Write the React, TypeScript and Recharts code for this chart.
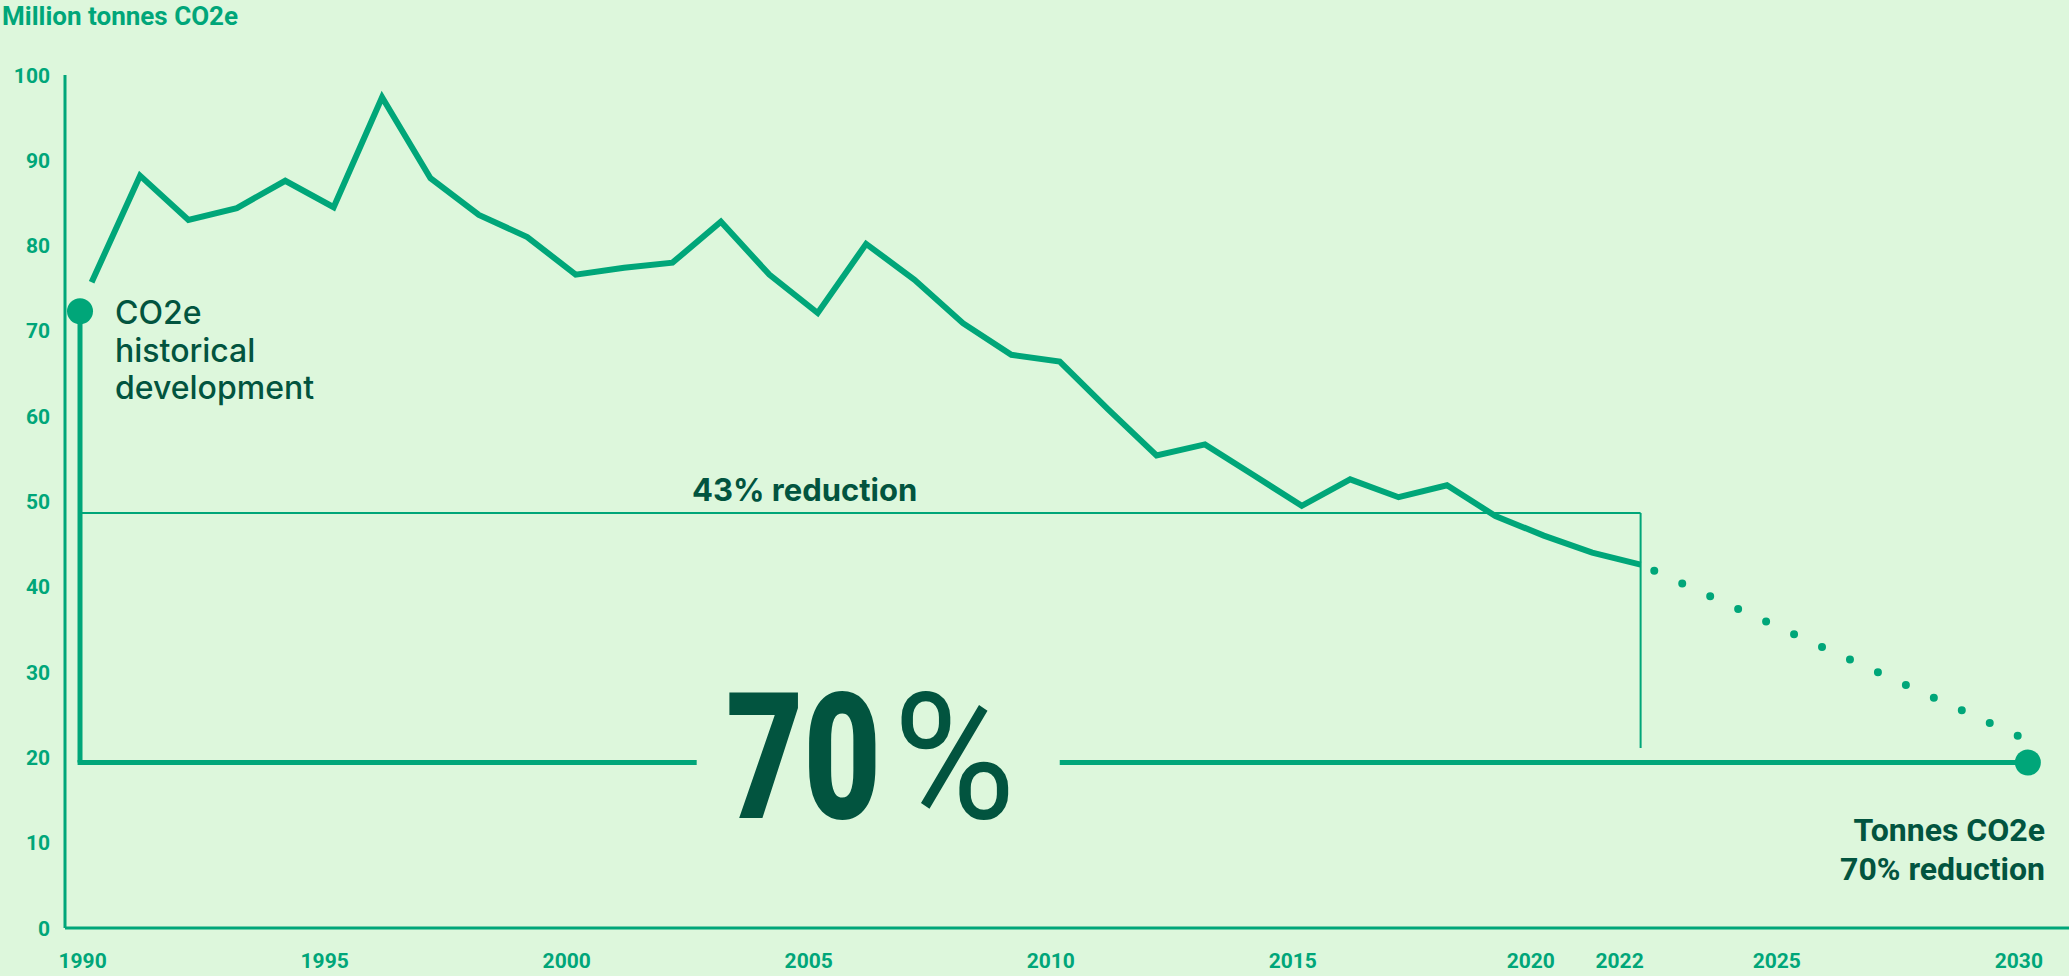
import { LineChart, Line, XAxis, YAxis, ReferenceLine, ReferenceDot } from 'recharts';

const BG = '#ddf7dc';
const GREEN = '#00a679';
const DARK = '#02543f';

// historical emissions, million tonnes CO2e
const YEARS = [
  1990, 1991, 1992, 1993, 1994, 1995, 1996, 1997, 1998, 1999, 2000, 2001, 2002, 2003, 2004, 2005,
  2006, 2007, 2008, 2009, 2010, 2011, 2012, 2013, 2014, 2015, 2016, 2017, 2018, 2019, 2020, 2021, 2022,
];
const EMISSIONS = [
  75.7, 88.2, 83.0, 84.4, 87.6, 84.5, 97.4, 87.9, 83.6, 81.0, 76.6, 77.4, 78.0, 82.8, 76.6, 72.1,
  80.2, 76.0, 70.9, 67.2, 66.4, 60.8, 55.4, 56.7, 53.1, 49.5, 52.6, 50.5, 51.9, 48.3, 46.0, 44.0, 42.6,
];
// projected path to 2030
const PROJ_YEARS = [2022, 2030];
const PROJ_VALUES = [42.6, 22.0];

const X_TICKS = [1990, 1995, 2000, 2005, 2010, 2015, 2020, 2022, 2025, 2030];
const Y_TICKS = [0, 10, 20, 30, 40, 50, 60, 70, 80, 90, 100];

// annotation frame (data units)
const FRAME_X = 1989.76;
const FRAME_TOP = 72.3;
const TARGET_Y = 19.4;
const GAP_FROM = 2002.5;
const GAP_TO = 2010.0;
const REDUCTION_Y = 48.65;
const REDUCTION_END = 21.1;

// label nudges (the year labels sit a little left of their points)
const X_TICK_DX = -9;
const X_TICK_NUDGE: Record<number, number> = { 2020: -13, 2022: -21 };

const rows = YEARS.map((year, i) => ({ year, hist: EMISSIONS[i] as number | undefined, proj: undefined as number | undefined }));
PROJ_YEARS.forEach((year, i) => {
  const r = rows.find((d) => d.year === year);
  if (r) r.proj = PROJ_VALUES[i];
  else rows.push({ year, hist: undefined, proj: PROJ_VALUES[i] });
});

const XTick = ({ x, y, payload }: any) => (
  <text
    x={x + (X_TICK_NUDGE[payload.value] ?? X_TICK_DX)}
    y={y + 40}
    textAnchor="middle"
    fill={GREEN}
    fontFamily="Roboto"
    fontWeight={700}
    fontSize={21}
  >
    {payload.value}
  </text>
);

const YTick = ({ x, y, payload }: any) => (
  <text x={x} y={y + 7.5} textAnchor="end" fill={GREEN} fontFamily="Roboto" fontWeight={700} fontSize={21}>
    {payload.value}
  </text>
);

export default function App() {
  return (
    <div style={{ position: 'fixed', left: 0, top: 0, width: 2069, height: 976, background: BG }}>
      <LineChart width={2069} height={976} data={rows} margin={{ top: 75, right: 0, bottom: 0, left: 0 }}>
        <XAxis
          type="number"
          dataKey="year"
          domain={[1989.45, 2030.85]}
          ticks={X_TICKS}
          allowDataOverflow
          height={48}
          tickSize={0}
          tickMargin={0}
          tickLine={false}
          axisLine={{ stroke: GREEN, strokeWidth: 3 }}
          tick={<XTick />}
        />
        <YAxis
          domain={[0, 100]}
          ticks={Y_TICKS}
          width={65}
          tickSize={0}
          tickMargin={15}
          tickLine={false}
          axisLine={{ stroke: GREEN, strokeWidth: 3 }}
          tick={<YTick />}
        />
        <ReferenceLine
          segment={[{ x: FRAME_X, y: REDUCTION_Y }, { x: 2022, y: REDUCTION_Y }]}
          stroke={GREEN}
          strokeWidth={2}
          ifOverflow="visible"
        />
        <ReferenceLine
          segment={[{ x: 2022, y: REDUCTION_Y }, { x: 2022, y: REDUCTION_END }]}
          stroke={GREEN}
          strokeWidth={2}
          ifOverflow="visible"
        />
        <ReferenceLine
          segment={[{ x: FRAME_X, y: FRAME_TOP }, { x: FRAME_X, y: TARGET_Y }]}
          stroke={GREEN}
          strokeWidth={5}
          ifOverflow="visible"
        />
        <ReferenceLine
          segment={[{ x: FRAME_X - 0.05, y: TARGET_Y }, { x: GAP_FROM, y: TARGET_Y }]}
          stroke={GREEN}
          strokeWidth={5}
          ifOverflow="visible"
        />
        <ReferenceLine
          segment={[{ x: GAP_TO, y: TARGET_Y }, { x: 2030, y: TARGET_Y }]}
          stroke={GREEN}
          strokeWidth={5}
          ifOverflow="visible"
        />
        <Line
          dataKey="hist"
          stroke={GREEN}
          strokeWidth={6}
          dot={false}
          activeDot={false}
          isAnimationActive={false}
        />
        <Line
          dataKey="proj"
          stroke={GREEN}
          strokeWidth={8}
          strokeLinecap="round"
          strokeDasharray="0 30.7"
          strokeDashoffset={15.7}
          dot={false}
          activeDot={false}
          isAnimationActive={false}
        />
        <ReferenceDot x={FRAME_X} y={FRAME_TOP} r={13} fill={GREEN} stroke="none" ifOverflow="visible" />
        <ReferenceDot x={2030} y={TARGET_Y} r={13} fill={GREEN} stroke="none" ifOverflow="visible" />
      </LineChart>
      <svg
        width={2069}
        height={976}
        style={{ position: 'absolute', left: 0, top: 0, pointerEvents: 'none' }}
      >
        <text x={2} y={25} fill={GREEN} fontFamily="Roboto" fontWeight={700} fontSize={26}>
          Million tonnes CO2e
        </text>
        <text fill={DARK} fontFamily="Inter" fontWeight={500} fontSize={32}>
          <tspan x={115} y={324}>CO2e</tspan>
          <tspan x={115} y={362}>historical</tspan>
          <tspan x={115} y={399}>development</tspan>
        </text>
        <text x={692} y={501} fill={DARK} fontFamily="Inter" fontWeight={700} fontSize={31}>
          43% reduction
        </text>
        <text
          transform="translate(726 818) scale(0.76 1)"
          fill={DARK}
          fontFamily="Roboto"
          fontWeight={900}
          fontSize={176}
        >
          70
        </text>
        <text
          transform="translate(893 818) scale(0.95 1)"
          fill={DARK}
          fontFamily="Roboto"
          fontWeight={400}
          fontSize={176}
        >
          %
        </text>
        <text textAnchor="end" fill={DARK} fontFamily="Roboto" fontWeight={700} fontSize={32}>
          <tspan x={2045} y={841}>Tonnes CO2e</tspan>
          <tspan x={2045} y={880}>70% reduction</tspan>
        </text>
      </svg>
    </div>
  );
}
